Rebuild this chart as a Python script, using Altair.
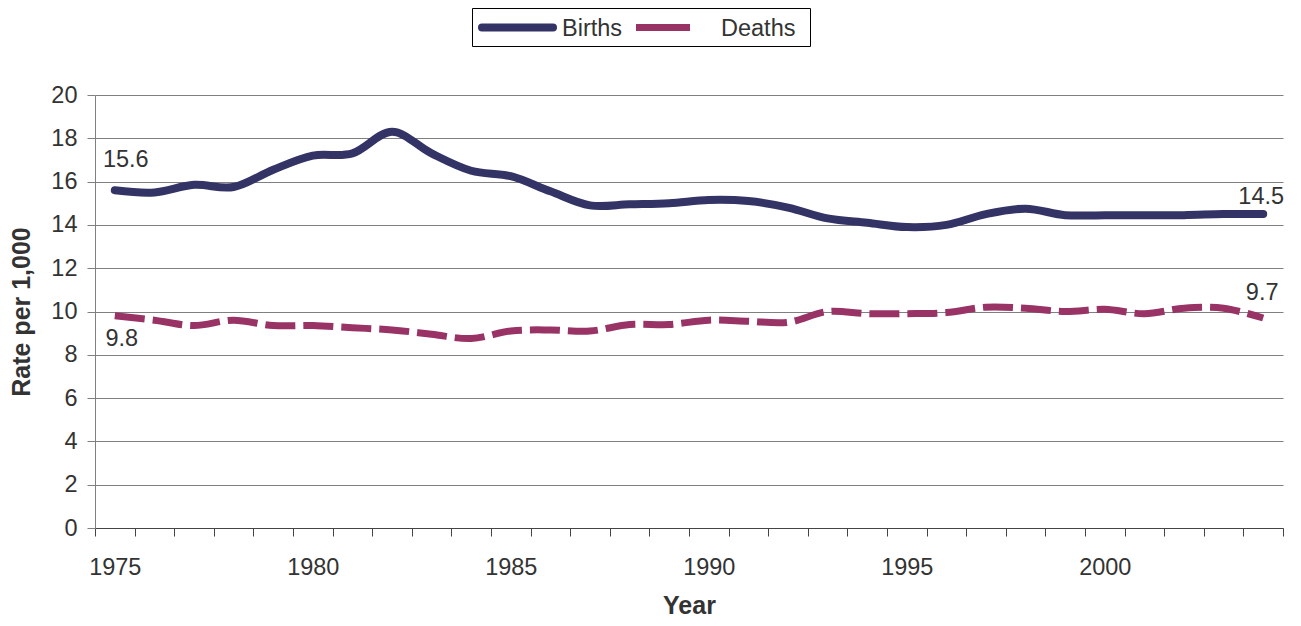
import altair as alt
import pandas as pd

years = list(range(1975, 2005))
births = [15.6, 15.5, 15.85, 15.75, 16.55, 17.2, 17.3, 18.3, 17.3, 16.5,
          16.25, 15.55, 14.9, 14.95, 15.0, 15.15, 15.1, 14.8, 14.3, 14.1,
          13.9, 14.0, 14.5, 14.75, 14.45, 14.45, 14.45, 14.45, 14.5, 14.5]
deaths = [9.8, 9.6, 9.35, 9.6, 9.35, 9.35, 9.25, 9.15, 8.95, 8.75,
          9.1, 9.15, 9.1, 9.4, 9.4, 9.6, 9.55, 9.5, 10.0, 9.9,
          9.9, 9.95, 10.2, 10.15, 10.0, 10.1, 9.9, 10.15, 10.15, 9.7]
series_names = ["Births", "Deaths"]
series_colors = ["#333366", "#993366"]
y_ticks = list(range(0, 21, 2))
x_tick_positions = [y - 0.5 for y in years] + [years[-1] + 0.5]

df = pd.DataFrame({
    "year": years * 2,
    "value": births + deaths,
    "series": ["Births"] * len(years) + ["Deaths"] * len(years),
})
legend_df = pd.DataFrame({"series": series_names})

FONT = "Liberation Sans"
TXT = "#333333"
W, H = 1188, 433

x_enc = alt.X(
    "year:Q",
    scale=alt.Scale(domain=[years[0] - 0.5, years[-1] + 0.5], nice=False, zero=False),
    axis=alt.Axis(
        values=x_tick_positions,
        tickCount=100,
        labelExpr="(datum.value + 0.5) % 5 == 0 && datum.value < 2004 ? format(datum.value + 0.5, 'd') : ''",
        labelOffset=W / 30 / 2,
        labelFlush=False,
        labelOverlap=False,
        labelBound=False,
        tickSize=8,
        tickColor="#444444",
        domainColor="#444444",
        labelPadding=19,
        title="Year",
        titlePadding=15,
        grid=False,
    ),
)
y_enc = alt.Y(
    "value:Q",
    scale=alt.Scale(domain=[0, 20], nice=False),
    axis=alt.Axis(
        values=y_ticks,
        format="d",
        grid=True,
        gridColor="#808080",
        tickSize=8,
        tickColor="#808080",
        domainColor="#808080",
        labelPadding=10,
        title="Rate per 1,000",
        titlePadding=16,
    ),
)
color_scale = alt.Scale(domain=series_names, range=series_colors)
color_enc = alt.Color("series:N", scale=color_scale, legend=None)

base = alt.Chart(df)
births_line = base.transform_filter(alt.datum.series == "Births").mark_line(
    interpolate="cardinal", strokeWidth=8, strokeCap="round", strokeJoin="round"
).encode(x=x_enc, y=y_enc, color=color_enc)
deaths_line = base.transform_filter(alt.datum.series == "Deaths").mark_line(
    interpolate="cardinal", strokeWidth=7, strokeDash=[30, 8], strokeCap="butt"
).encode(x=x_enc, y=y_enc, color=color_enc)


def label(series, year, dx, dy):
    return base.transform_filter(
        (alt.datum.series == series) & (alt.datum.year == year)
    ).transform_calculate(txt="format(datum.value, '.1f')").mark_text(
        font=FONT, fontSize=23.5, color=TXT, align="center", baseline="middle", dx=dx, dy=dy
    ).encode(x="year:Q", y="value:Q", text="txt:N")


labels = [
    label("Births", 1975, 11, -30),
    label("Deaths", 1975, 7, 23),
    label("Births", 2004, -2, -17),
    label("Deaths", 2004, -1, -25),
]

# Legend (boxed, above the plot)
leg = alt.Chart(legend_df)
LY = -67.5
legend_box = leg.transform_filter(alt.datum.series == "Births").mark_rect(
    fill="white", stroke="#000000", strokeWidth=1
).encode(x=alt.value(377.5), x2=alt.value(715.5), y=alt.value(-86.5), y2=alt.value(-48.5))
legend_births = leg.transform_filter(alt.datum.series == "Births").mark_rule(
    strokeWidth=8, strokeCap="round"
).encode(x=alt.value(387), x2=alt.value(458), y=alt.value(LY),
         color=alt.Color("series:N", scale=color_scale, legend=None))
legend_deaths = leg.transform_filter(alt.datum.series == "Deaths").mark_rule(
    strokeWidth=7, strokeCap="butt"
).encode(x=alt.value(541), x2=alt.value(595), y=alt.value(LY),
         color=alt.Color("series:N", scale=color_scale, legend=None))
legend_births_txt = leg.transform_filter(alt.datum.series == "Births").mark_text(
    font=FONT, fontSize=23.5, color=TXT, align="left", baseline="middle"
).encode(x=alt.value(467), y=alt.value(LY + 1), text="series:N")
legend_deaths_txt = leg.transform_filter(alt.datum.series == "Deaths").mark_text(
    font=FONT, fontSize=23.5, color=TXT, align="left", baseline="middle"
).encode(x=alt.value(626), y=alt.value(LY + 1), text="series:N")

chart = alt.layer(
    births_line, deaths_line, *labels,
    legend_box, legend_births, legend_deaths, legend_births_txt, legend_deaths_txt,
).properties(
    width=W,
    height=H,
    autosize=alt.AutoSizeParams(type="none"),
    padding={"left": 87, "top": 87, "right": 10, "bottom": 95},
).configure_view(strokeWidth=0).configure_axis(
    labelFont=FONT, labelFontSize=23.5, labelColor=TXT,
    titleFont=FONT, titleFontSize=25, titleFontWeight="bold", titleColor=TXT,
)

chart.save("out.html", embed_options={"renderer": "svg", "actions": False})
